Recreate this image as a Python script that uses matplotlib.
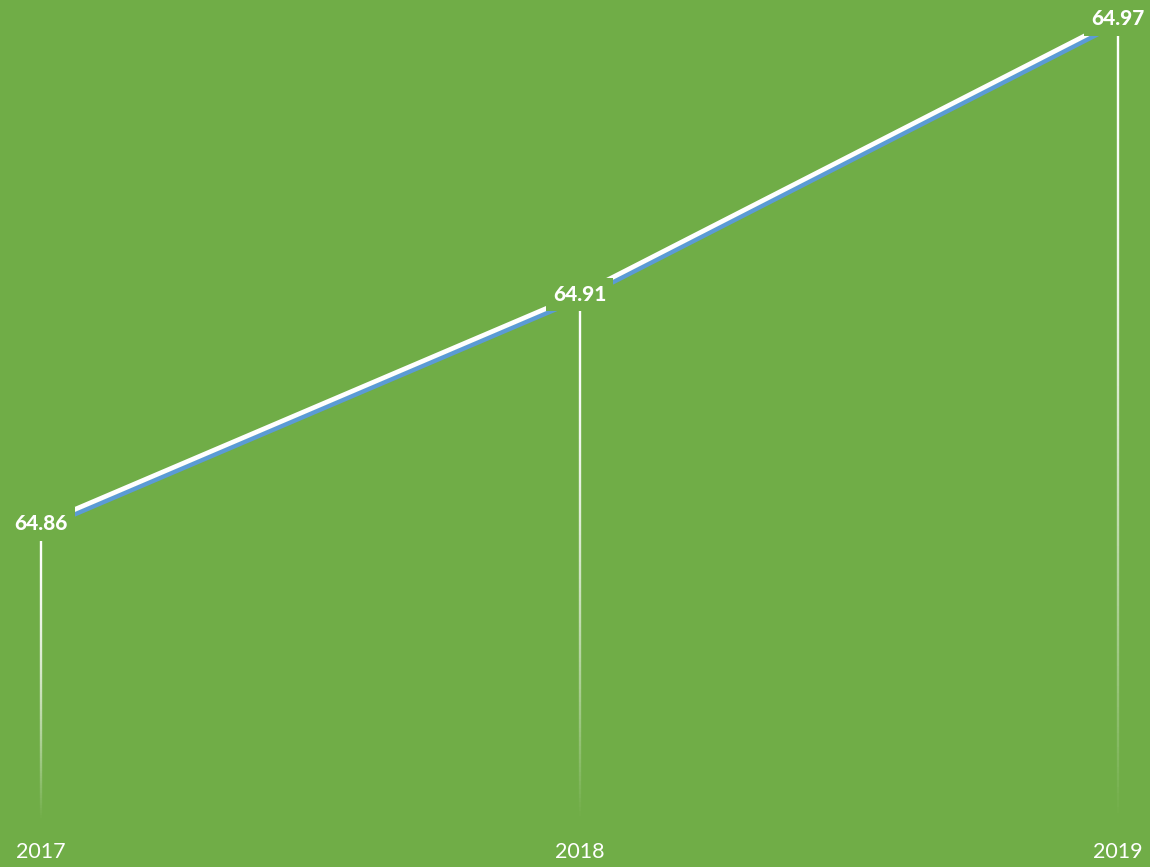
import numpy as np
import matplotlib
matplotlib.use("Agg")
import matplotlib.pyplot as plt
import matplotlib.patheffects as pe
from matplotlib.collections import LineCollection

years = ["2017", "2018", "2019"]
values = [64.86, 64.91, 64.97]

BG = "#70AD47"
SHADOW = "#5B9BD5"
plt.rcParams["font.family"] = ["Lato", "DejaVu Sans"]

fig = plt.figure(figsize=(11.5, 8.67), dpi=100, facecolor=BG)
ax = fig.add_axes([0, 47 / 867, 1, 1 - 47 / 867])
ax.set_facecolor(BG)

x = np.arange(len(years))
ax.set_xlim(-41 / 538.5, 2 + 32 / 538.5)
ax.set_ylim(64.7955, 64.9741)

# main line with a blue drop shadow
ax.plot(x, values, color="white", lw=3.4, solid_capstyle="butt", zorder=3,
        path_effects=[pe.SimpleLineShadow(offset=(1.4, -2.8), shadow_color=SHADOW,
                                          alpha=1.0), pe.Normal()])

# drop lines fading toward the bottom
ymin = ax.get_ylim()[0]
for xi, v in zip(x, values):
    n = 120
    ys = np.linspace(v, ymin, n + 1)
    segs = [[(xi, ys[i]), (xi, ys[i + 1])] for i in range(n)]
    t = np.linspace(0, 1, n)
    alphas = np.clip(1 - t ** 1.8, 0, 1)
    cols = [(1, 1, 1, a) for a in alphas]
    ax.add_collection(LineCollection(segs, colors=cols, linewidths=1.7, zorder=2))

# value labels on a background-coloured box
for xi, v in zip(x, values):
    ax.text(xi, v, f"{v:.2f}", ha="center", va="center", color="white",
            fontsize=15, fontweight=900, zorder=5,
            bbox=dict(boxstyle="square,pad=0.35", facecolor=BG, edgecolor="none"))

ax.set_xticks(x)
ax.set_xticklabels(years, color="white", fontsize=15.5)
ax.tick_params(axis="x", length=0, pad=16)
ax.set_yticks([])
for s in ax.spines.values():
    s.set_visible(False)

fig.savefig("out.png", dpi=100, facecolor=BG)
